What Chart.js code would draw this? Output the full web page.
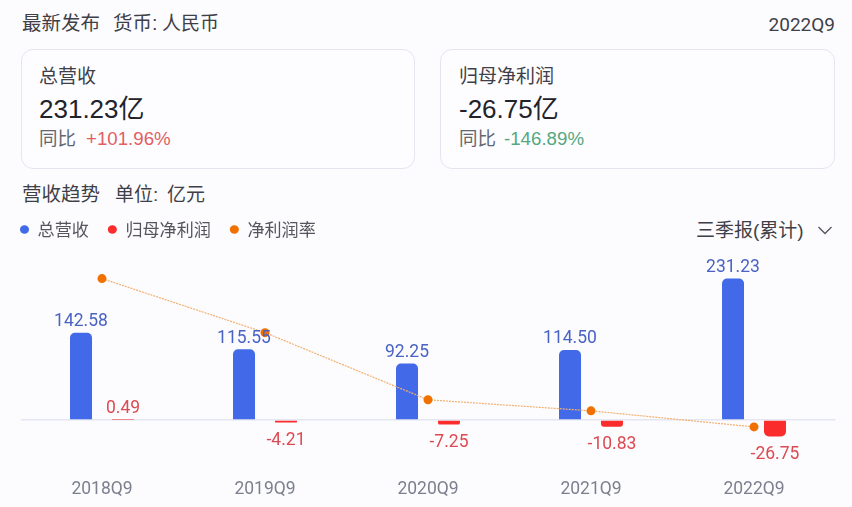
<!DOCTYPE html>
<html>
<head>
<meta charset="utf-8">
<script src="https://cdn.jsdelivr.net/npm/chart.js@4"></script>
<style>
  body { margin: 0; width: 852px; height: 507px; position: relative; overflow: hidden; background: #fcfcfe; color: #3f3f48; font-family: "Liberation Sans", "Noto Sans CJK SC", sans-serif; }
  .t { position: absolute; white-space: pre; line-height: 1; }
  .card { position: absolute; top: 49px; height: 118px; box-sizing: content-box; border: 1px solid #e3e6ee; border-radius: 12px; background: #fdfdff; }
  canvas { position: absolute; left: 0; top: 202px; }
</style>
</head>
<body>
<div class="t" style="left:22px;top:14px;font-size:19.5px">最新发布</div>
<div class="t" style="left:113px;top:14px;font-size:19.5px">货币:</div>
<div class="t" style="left:162px;top:14px;font-size:19px">人民币</div>
<div class="t" style="right:17px;top:15px;font-size:19px;font-family:Roboto">2022Q9</div>

<div class="card" style="left:21px;width:392px"></div>
<div class="card" style="left:440px;width:393px"></div>

<div class="t" style="left:39px;top:67px;font-size:19px">总营收</div>
<div class="t" style="left:39px;top:96px;font-size:26px;color:#22222a">231.23亿</div>
<div class="t" style="left:39px;top:130px;font-size:18.5px;color:#66666e">同比</div>
<div class="t" style="left:86px;top:130px;font-size:18.7px;color:#e0605f">+101.96%</div>

<div class="t" style="left:459px;top:67px;font-size:19px">归母净利润</div>
<div class="t" style="left:459px;top:96px;font-size:26px;color:#22222a">-26.75亿</div>
<div class="t" style="left:459px;top:130px;font-size:18.5px;color:#66666e">同比</div>
<div class="t" style="left:504px;top:130px;font-size:18.7px;color:#55a880">-146.89%</div>

<div class="t" style="left:22px;top:185px;font-size:19.5px">营收趋势</div>
<div class="t" style="left:115px;top:185px;font-size:19px">单位:</div>
<div class="t" style="left:167px;top:185px;font-size:19px">亿元</div>
<div class="t" style="left:696px;top:221px;font-size:19px">三季报(累计)</div>
<svg style="position:absolute;left:817px;top:225px" width="16" height="12"><polyline points="1.5,2 8,8.5 14.5,2" fill="none" stroke="#55555e" stroke-width="1.3"/></svg>

<canvas id="trendChart" width="852" height="305"></canvas>

<script>
const categories = ['2018Q9', '2019Q9', '2020Q9', '2021Q9', '2022Q9'];
const revenue = [142.58, 115.55, 92.25, 114.50, 231.23];
const netProfit = [0.49, -4.21, -7.25, -10.83, -26.75];
const netMargin = [0.34, -4.0, -9.39, -10.28, -11.57];

// value labels above / below each bar
const barLabels = {
  id: 'barLabels',
  afterDatasetsDraw(chart) {
    const ctx = chart.ctx;
    ctx.save();
    ctx.font = '17.5px Roboto';
    ctx.textAlign = 'center';
    ctx.textBaseline = 'middle';
    [[0, '#4a62c4'], [1, '#dc4a52']].forEach(([idx, color]) => {
      ctx.fillStyle = color;
      chart.getDatasetMeta(idx).data.forEach((bar, i) => {
        const v = chart.data.datasets[idx].data[i];
        const y = v >= 0 ? bar.y - 11 : bar.y + 18;
        ctx.fillText(v.toFixed(2), bar.x, y);
      });
    });
    ctx.restore();
  }
};

new Chart(document.getElementById('trendChart'), {
  data: {
    labels: categories,
    datasets: [
      { type: 'bar', label: '总营收', data: revenue, backgroundColor: '#4169e8', borderRadius: 5, borderSkipped: 'start', order: 2 },
      { type: 'bar', label: '归母净利润', data: netProfit, backgroundColor: '#fa2c2c', borderRadius: 5, borderSkipped: 'start', order: 2 },
      {
        type: 'line', label: '净利润率', data: netMargin, yAxisID: 'y1', order: 1,
        borderColor: '#f2b070', borderWidth: 1.2, borderDash: [2, 1],
        backgroundColor: '#f07000', pointBackgroundColor: '#f07000', pointBorderWidth: 0,
        pointRadius: 4.5, pointHoverRadius: 4.5, tension: 0
      }
    ]
  },
  options: {
    responsive: false,
    animation: false,
    categoryPercentage: 0.515,
    barPercentage: 0.524,
    layout: { padding: { left: 1, right: 16.5, top: 0, bottom: 0 } },
    plugins: {
      tooltip: { enabled: false },
      legend: {
        position: 'top',
        align: 'start',
        labels: {
          usePointStyle: true,
          pointStyle: 'circle',
          boxHeight: 6,
          pointStyleWidth: 9,
          padding: 19,
          color: '#55555e',
          font: { family: '"Noto Sans CJK SC"', size: 17.1 },
          generateLabels(chart) {
            return chart.data.datasets.map((d, i) => ({
              text: d.label, fillStyle: d.backgroundColor, strokeStyle: d.backgroundColor,
              lineWidth: 0, pointStyle: 'circle', datasetIndex: i, fontColor: '#55555e'
            }));
          }
        }
      }
    },
    scales: {
      x: {
        grid: { display: false },
        border: { display: false },
        ticks: { color: '#7c7f8e', font: { family: 'Roboto', size: 17.5 }, padding: 2, maxRotation: 0 },
        afterFit(scale) { scale.height = 38; }
      },
      y: {
        min: -80,
        max: 280.9,
        border: { display: false },
        ticks: { display: false, stepSize: 1000 },
        grid: {
          drawTicks: false,
          color: ctx => ctx.tick.value === 0 ? '#e4e6f1' : 'transparent',
          lineWidth: 1.5
        },
        afterBuildTicks(scale) { scale.ticks = [{ value: 0 }]; },
        afterFit(scale) { scale.width = 19.5; }
      },
      y1: { display: false, min: -14.95, max: 2.79 }
    }
  },
  plugins: [barLabels]
});
</script>
</body>
</html>
